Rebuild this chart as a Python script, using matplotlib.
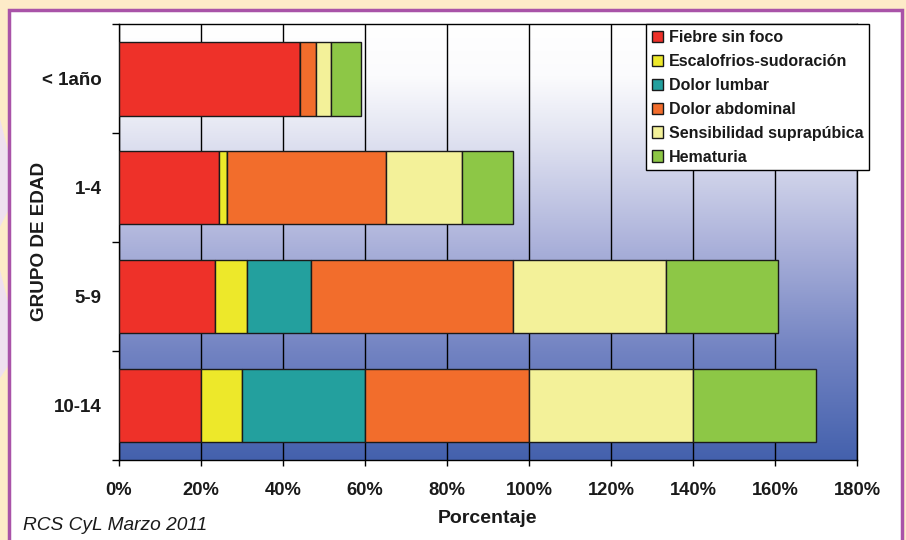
import matplotlib.pyplot as plt
import numpy as np
from matplotlib.colors import LinearSegmentedColormap
from matplotlib.patches import Rectangle, Polygon

# Datos del gráfico (porcentajes por grupo de edad)
grupos = ["< 1año", "1-4", "5-9", "10-14"]
sintomas = ["Fiebre sin foco", "Escalofrios-sudoración", "Dolor lumbar",
            "Dolor abdominal", "Sensibilidad suprapúbica", "Hematuria"]
fiebre = [44.2, 24.5, 23.6, 20]
escalofrios = [0, 2.0, 7.7, 10]
lumbar = [0, 0, 15.7, 30]
abdominal = [3.9, 38.7, 49.0, 40]
suprapubica = [3.7, 18.5, 37.3, 40]
hematuria = [7.3, 12.3, 27.4, 30]
ticks_x = [0, 20, 40, 60, 80, 100, 120, 140, 160, 180]

colores = ["#ee3129", "#ede82a", "#23a09e", "#f26d2c", "#f3f199", "#8dc746"]
series = [fiebre, escalofrios, lumbar, abdominal, suprapubica, hematuria]

fig = plt.figure(figsize=(9.06, 5.40), dpi=100)
fig.patch.set_facecolor("#fdebc8")

# Formas lilas del fondo a la izquierda
for pts in ([(0, 0.78), (0.012, 0.70), (0.012, 0.62), (0, 0.58)],
            [(0, 0.50), (0.012, 0.42), (0.012, 0.33), (0, 0.30)]):
    fig.patches.append(Polygon(pts, closed=True, transform=fig.transFigure,
                               facecolor="#efe0ef", edgecolor="none", zorder=-2))

# Marco blanco con borde morado
fig.patches.append(Rectangle((9 / 906, -0.01), 893 / 906, 1 - 10 / 540 + 0.01,
                             transform=fig.transFigure, facecolor="white",
                             edgecolor="#a953a8", linewidth=2.5, zorder=-1))

ax = fig.add_axes([118.5 / 906, 1 - 460 / 540, 739 / 906, (460 - 24.3) / 540])
ax.set_facecolor("none")
ax.set_zorder(2)

# Fondo degradado del área de trazado
cmap = LinearSegmentedColormap.from_list(
    "fondo", [(0, "#ffffff"), (0.12, "#fbfbfd"), (0.25, "#e3e5f2"),
              (0.5, "#adb3db"), (0.75, "#7283c2"), (1, "#4461ad")])
grad = np.linspace(0, 1, 256).reshape(-1, 1)
ax.imshow(grad, cmap=cmap, aspect="auto", extent=(0, 1, 0, 1),
          transform=ax.transAxes, zorder=0)

y = np.arange(len(grupos))
izq = np.zeros(len(grupos))
for nombre, valores, color in zip(sintomas, series, colores):
    ax.barh(y, valores, left=izq, height=0.675, color=color,
            edgecolor="#1a1a1a", linewidth=1, label=nombre, zorder=3)
    izq += np.array(valores)

ax.set_xlim(0, 180)
ax.set_ylim(3.5, -0.5)
ax.set_xticks(ticks_x)
ax.set_xticklabels([f"{t}%" for t in ticks_x])
ax.set_yticks(y)
ax.set_yticklabels(grupos)
ax.set_yticks(np.arange(-0.5, 4, 1), minor=True)
ax.xaxis.grid(True, color="black", linewidth=1, zorder=1)
ax.set_axisbelow(True)
for s in ax.spines.values():
    s.set_color("black")
    s.set_linewidth(1)

ax.tick_params(axis="x", length=4, width=1, pad=12, labelsize=13.2,
               labelcolor="#1a1a1a")
ax.tick_params(axis="y", which="major", length=0, pad=12, labelsize=13.5,
               labelcolor="#1a1a1a")
ax.tick_params(axis="y", which="minor", length=5, width=1)
for lab in ax.get_xticklabels() + ax.get_yticklabels():
    lab.set_fontweight("bold")
    lab.set_family("Liberation Sans")

ax.set_xlabel("Porcentaje", fontsize=14, fontweight="bold", color="#1a1a1a",
              family="Liberation Sans", labelpad=8)
fig.text(39.5 / 906, 1 - 241 / 540, "GRUPO DE EDAD", rotation=90, ha="center",
         va="center", fontsize=13.6, fontweight="bold", color="#1a1a1a",
         family="Liberation Sans")
fig.text(23 / 906, 1 - 525 / 540, "RCS CyL Marzo 2011", ha="left", va="center",
         fontsize=13.8, style="italic", color="#1a1a1a",
         family="Liberation Sans")

leg = ax.legend(loc="upper right", bbox_to_anchor=(1.0156, 1.0), fancybox=False,
                edgecolor="black", framealpha=1, borderaxespad=0,
                handlelength=0.7, handleheight=0.7, handletextpad=0.35,
                labelspacing=0.56, borderpad=0.35,
                prop={"family": "Liberation Sans", "weight": "bold", "size": 11.5})
leg.get_frame().set_linewidth(1)
leg.set_zorder(5)
for t in leg.get_texts():
    t.set_color("#1a1a1a")

plt.savefig("out.png", dpi=100)
